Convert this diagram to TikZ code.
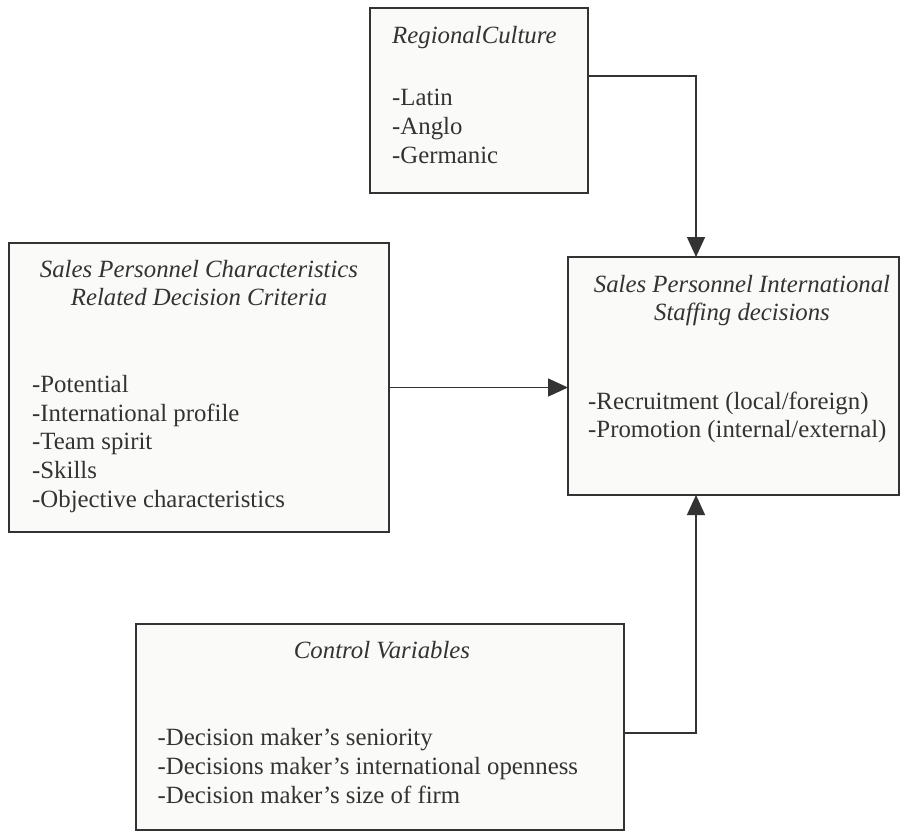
\documentclass[tikz,border=0pt]{standalone}
\usepackage{fontspec}
\setmainfont{Liberation Serif}
\usetikzlibrary{arrows.meta}
\definecolor{ink}{HTML}{333333}
\definecolor{boxfill}{HTML}{FAFAF8}
\begin{document}
\begin{tikzpicture}[x=1pt,y=-1pt,
  box/.style={draw=ink, line width=1.5pt, fill=boxfill, anchor=north west, inner sep=0pt, outer sep=0pt},
  txt/.style={anchor=base west, inner sep=0pt, text=ink, font=\fontsize{24.8}{28.7}\selectfont},
  ttl/.style={anchor=base, inner sep=0pt, text=ink, font=\fontsize{24.8}{28.7}\selectfont\itshape},
  ttll/.style={anchor=base west, inner sep=0pt, text=ink, font=\fontsize{24.8}{28.7}\selectfont\itshape},
  conn/.style={draw=ink, line width=1.5pt, -{Triangle[length=20pt,width=18pt]}}]
\useasboundingbox (0,0) rectangle (901,833);

% boxes
\node[box, minimum width=218pt, minimum height=185pt] (rc) at (370,8) {};
\node[box, minimum width=380pt, minimum height=289pt] (spc) at (9,243) {};
\node[box, minimum width=331pt, minimum height=238pt] (spi) at (568,257) {};
\node[box, minimum width=488pt, minimum height=206pt] (cv) at (136,624) {};

% Regional culture
\node[ttll] (rct) at (392,43) {RegionalCulture};
\node[txt] (rc1) at (392,105) {-Latin};
\node[txt] (rc2) at (392,134) {-Anglo};
\node[txt] (rc3) at (392,163) {-Germanic};

% Sales personnel characteristics
\node[ttl] (spct1) at (199,277) {Sales Personnel Characteristics};
\node[ttl] (spct2) at (199,305) {Related Decision Criteria};
\node[txt] (spc1) at (32,392) {-Potential};
\node[txt] (spc2) at (32,421) {-International profile};
\node[txt] (spc3) at (32,449) {-Team spirit};
\node[txt] (spc4) at (32,478) {-Skills};
\node[txt] (spc5) at (32,507) {-Objective characteristics};

% Sales personnel international staffing
\node[ttl] (spit1) at (742,292) {Sales Personnel International};
\node[ttl] (spit2) at (742,320) {Staffing decisions};
\node[txt] (spi1) at (588,409) {-Recruitment (local/foreign)};
\node[txt] (spi2) at (588,437) {-Promotion (internal/external)};

% Control variables
\node[ttl] (cvt) at (382,658) {Control Variables};
\node[txt] (cv1) at (157.5,745) {-Decision maker’s seniority};
\node[txt] (cv2) at (157.5,774) {-Decisions maker’s international openness};
\node[txt] (cv3) at (157.5,803) {-Decision maker’s size of firm};

% connectors
\draw[conn] ([yshift=-68pt]rc.north east) -| ([xshift=128pt]spi.north west);
\draw[conn] (spc.east) -- (spc.east -| spi.west);
\draw[conn] ([yshift=-6pt]cv.east) -| ([xshift=128pt]spi.south west);
\end{tikzpicture}
\end{document}
